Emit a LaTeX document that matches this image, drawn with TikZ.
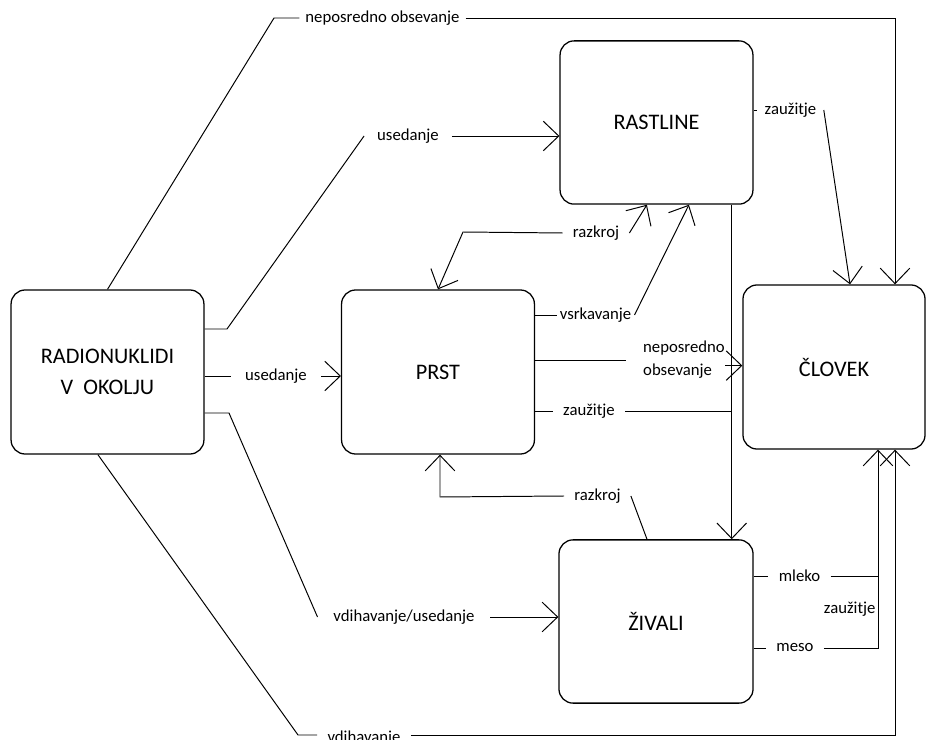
\documentclass[tikz,border=0pt]{standalone}
\usepackage{fontspec}
\setmainfont{Carlito}
\usetikzlibrary{arrows.meta}
\begin{document}
\begin{tikzpicture}[x=0.025cm,y=-0.025cm,line width=0.7pt,
  >={Straight Barb[length=11pt,width=21pt]},
  every node/.style={font=\fontsize{11.9}{16.3}\selectfont},
  box/.style={draw,line width=0.9pt,rounded corners=10pt,align=center,
    minimum width=4.82cm,minimum height=4.1cm,font=\fontsize{15.8}{22}\selectfont},
  lbl/.style={inner xsep=7pt,inner ysep=1pt}]
\useasboundingbox (0,0) rectangle (926,740);
% boxes
\node[box] (rad) at (107.5,372) {RADIONUKLIDI\\V\ \ OKOLJU};
\node[box] (prst) at (438,372) {PRST};
\node[box,minimum height=4.08cm] (rast) at (656.5,122.5) {RASTLINE};
\node[box,minimum width=4.55cm] (clov) at (834,367) {ČLOVEK};
\node[box,minimum width=4.85cm,minimum height=4.08cm] (ziv) at (656,621.5) {ŽIVALI};
% bends
\coordinate (k1) at (274,18);
\coordinate (k2) at (895,18);
\coordinate (k3) at (227,329);
\coordinate (k4) at (229,413);
\coordinate (k5) at (298,735);
\coordinate (k6) at (895,735);
\coordinate (k7) at (463,232);
\coordinate (k8) at (440,497);
\coordinate (k9) at (878,575);
% neposredno obsevanje (zgoraj)
\node[lbl,inner xsep=4pt] (nob1) at (382.5,18) {neposredno obsevanje};
\draw (rad.north) -- (k1) -- (nob1.west);
\draw[->] (nob1.east) -- (k2) -- (k2 |- clov.north);
% usedanje
\node[lbl,inner xsep=9pt] (us1) at (408,136) {usedanje};
\draw (rad.east |- k3) -- (k3) -- (us1.west);
\draw[->] (us1.east) -- (us1.east -| rast.west);
\node[lbl,inner xsep=10pt] (us2) at (276,376) {usedanje};
\draw (rad.east |- us2) -- (us2.west);
\draw[->] (us2.east) -- (us2.east -| prst.west);
% vdihavanje
\node[lbl,inner xsep=11pt] (vu) at (404,617) {vdihavanje/usedanje};
\draw (rad.east |- k4) -- (k4) -- (vu.west);
\draw[->] (vu.east) -- (vu.east -| ziv.west);
\node[lbl,anchor=base] (vd) at (364,742) {vdihavanje};
\draw ([xshift=-2.4mm]rad.south) -- (k5) -- (k5 -| vd.west);
\draw[->] (k6 -| vd.east) -- (k6) -- (k6 |- clov.south);
% razkroj
\node[lbl] (rz1) at (596,233) {razkroj};
\draw[->] (rz1.west) -- (k7) -- (prst.north);
\draw[->] (rz1.east) -- ([xshift=-2.4mm]rast.south);
\node[lbl] (rz2) at (597.5,496) {razkroj};
\draw[->] (rz2.west) -- (k8) -- (k8 |- prst.south);
\draw (rz2.east) -- ([xshift=-2.25mm]ziv.north);
% vsrkavanje
\node[lbl,inner xsep=2pt] (vs) at (595.5,315) {vsrkavanje};
\draw (prst.east |- vs) -- (vs.west);
\draw[->] (vs.east) -- ([xshift=8.1mm]rast.south);
% prst -> clovek
\node[lbl,inner xsep=0pt,align=left] (nob2) at (684,360) {neposredno\\obsevanje};
\draw (prst.east |- nob2) -- ([xshift=-12pt]nob2.west);
\draw[->] ([yshift=-4pt]nob2.east) -- ([yshift=-4pt]nob2.east -| clov.west);
% rastline -> zivali
\draw[->] ([xshift=1.88cm]rast.south) coordinate (v1) -- (v1 |- ziv.north);
\node[lbl] (za1) at (589,411) {zaužitje};
\draw (prst.east |- za1) -- (za1.west);
\draw (za1.east) -- (za1.east -| v1);
% rastline -> clovek
\node[lbl,inner xsep=5pt] (za2) at (790.5,110) {zaužitje};
\draw (rast.east |- za2) -- (za2.west);
\draw[->] (za2.east) -- ([xshift=4mm]clov.north);
% zivali -> clovek
\node[lbl] (ml) at (799.5,576) {mleko};
\node[lbl] (me) at (795,648) {meso};
\node[inner sep=0pt,anchor=east] (za3) at (876,609) {zaužitje};
\draw (ziv.east |- ml) -- (ml.west);
\draw (ziv.east |- me) -- (me.west);
\draw (ml.east) -- (ml.east -| k9);
\draw[->] (me.east) -- (me.east -| k9) -- (k9 |- clov.south);
\end{tikzpicture}
\end{document}
